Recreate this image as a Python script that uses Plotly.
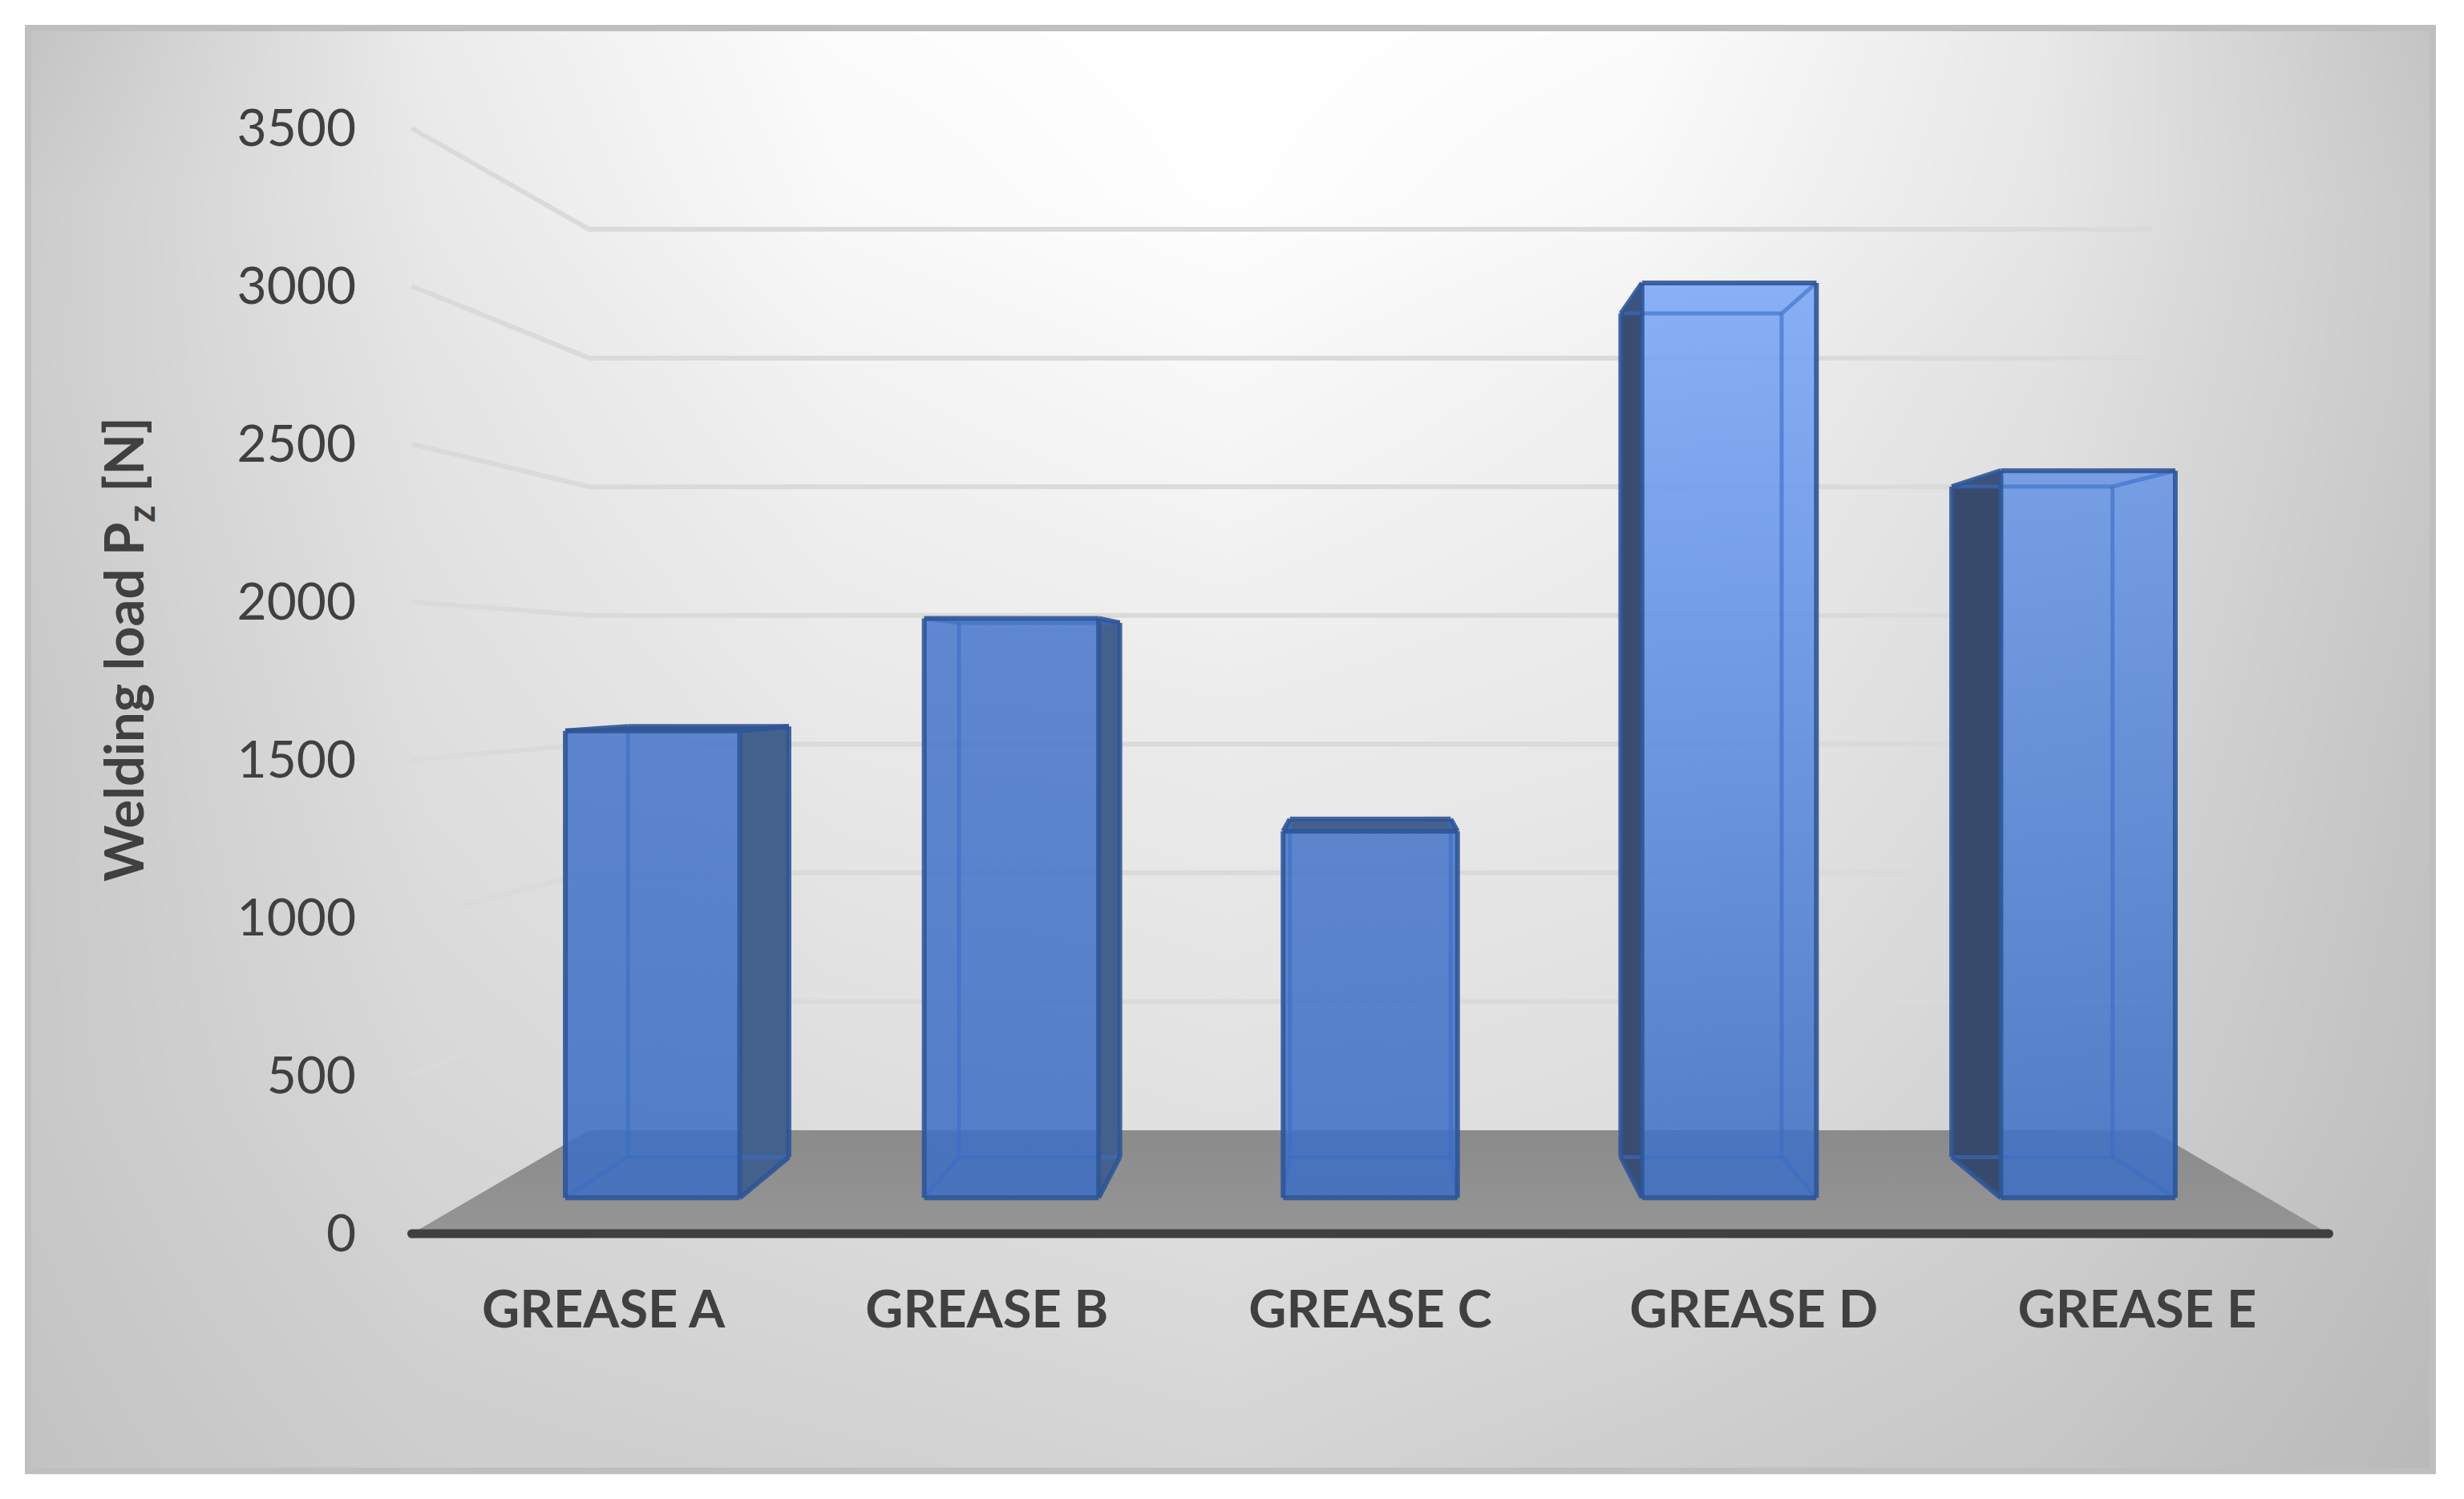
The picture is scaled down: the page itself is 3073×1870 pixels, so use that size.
"""
Welding load of five greases, drawn as a see-through 3D column chart.
The columns are projected by hand onto ordinary cartesian axes.
"""
import plotly.graph_objects as go

# chart data
categories = ["GREASE A", "GREASE B", "GREASE C", "GREASE D", "GREASE E"]
welding_load = [1580, 1960, 1240, 3095, 2460]
y_ticks = [0, 500, 1000, 1500, 2000, 2500, 3000, 3500]

# colours at the top of each column (the columns all fade to the same bottom colour)
top_colors = [
    "rgba(71,118,201,0.85)",
    "rgba(73,120,203,0.85)",
    "rgba(71,118,201,0.85)",
    "rgba(120,167,249,0.85)",
    "rgba(102,149,229,0.85)",
]
side_colors = ["#44608c", "#44608c", "#44608c", "#3a4d70", "#384a6b"]
bottom_color = "rgba(61,110,194,0.85)"

# background grey levels on a coarse grid (pixels)
bg_x = [31, 530, 1040, 1530, 2040, 2550, 3038]
bg_y = [31, 250, 470, 920, 1370, 1839]
bg_grey = [
    [195, 235, 252, 255, 252, 232, 195],
    [204, 232, 249, 254, 248, 230, 200],
    [205, 228, 242, 248, 240, 225, 200],
    [200, 222, 232, 235, 232, 218, 195],
    [200, 215, 222, 226, 222, 210, 192],
    [195, 205, 208, 212, 205, 198, 185],
]

# perspective: depth is the shrink factor, 1 at the axis line, smaller further back
HORIZON = 1770
CENTER = 2
WALL_DEPTH = 0.815
BAR_FRONT = 0.936
BAR_BACK = 0.863
BAR_HALF = 0.243
X_START, X_END = -0.5, 4.5

# pixel layout
W, H = 3073, 1870
ZERO_PX = 1539
PX_PER_UNIT = 0.394
CAT_PX = 478.2
CENTER_PX = 1709
LEFT_PX, RIGHT_PX = 445, 2950
TOP_PX, BOTTOM_PX = 30, 1590


def project(x, value, depth):
    return CENTER + (x - CENTER) * depth, HORIZON + (value - HORIZON) * depth


def polygon(points):
    xs, ys = zip(*points)
    return list(xs) + [xs[0]], list(ys) + [ys[0]]


def add(fig, **kwargs):
    fig.add_trace(go.Scatter(xaxis="x2", yaxis="y2", showlegend=False, hoverinfo="skip",
                             cliponaxis=False, **kwargs))


def add_column(fig, i, value):
    corners = {}
    for side, x in (("l", i - BAR_HALF), ("r", i + BAR_HALF)):
        for level, v in (("b", 0), ("t", value)):
            for plane, depth in (("f", BAR_FRONT), ("k", BAR_BACK)):
                corners[side + level + plane] = project(x, v, depth)

    faces = {
        "back": ["lbk", "rbk", "rtk", "ltk"],
        "bottom": ["lbf", "rbf", "rbk", "lbk"],
        "left": ["lbf", "lbk", "ltk", "ltf"],
        "right": ["rbf", "rbk", "rtk", "rtf"],
        "top": ["ltf", "rtf", "rtk", "ltk"],
        "front": ["lbf", "rbf", "rtf", "ltf"],
    }
    # faces turned to the viewer are solid and dark, the others only tint the inside
    seen = []
    if i + BAR_HALF < CENTER:
        seen.append("right")
    if i - BAR_HALF > CENTER:
        seen.append("left")
    if value < HORIZON:
        seen.append("top")

    gradient = dict(type="vertical", colorscale=[[0, bottom_color], [1, top_colors[i]]])
    for name, keys in faces.items():
        xs, ys = polygon([corners[k] for k in keys])
        if name == "front":
            add(fig, x=xs, y=ys, mode="none", fill="toself", fillgradient=gradient)
        elif name in seen:
            add(fig, x=xs, y=ys, mode="none", fill="toself", fillcolor=side_colors[i])
        else:
            add(fig, x=xs, y=ys, mode="none", fill="toself", fillcolor="rgba(90,140,225,0.12)")

    # outer edges dark, edges seen through the column lighter
    outer = set()
    inner = set()
    for name, keys in faces.items():
        for a, b in zip(keys, keys[1:] + keys[:1]):
            edge = tuple(sorted((a, b)))
            if name == "front" or name in seen:
                outer.add(edge)
            else:
                inner.add(edge)
    inner -= outer
    for edges, color, width in ((inner, "rgba(58,108,198,0.6)", 5), (outer, "rgba(47,85,151,0.9)", 6)):
        xs, ys = [], []
        for a, b in sorted(edges):
            xs += [corners[a][0], corners[b][0], None]
            ys += [corners[a][1], corners[b][1], None]
        add(fig, x=xs, y=ys, mode="lines", line=dict(color=color, width=width))


fig = go.Figure()

# background
fig.add_trace(go.Heatmap(x=bg_x, y=bg_y, z=bg_grey, zmin=0, zmax=255, zsmooth="best",
                         colorscale=[[0, "#000000"], [1, "#ffffff"]], showscale=False,
                         hoverinfo="skip"))

# gridlines run along the left wall, then across the back wall
for tick in y_ticks[1:]:
    points = [project(X_START, tick, 1), project(X_START, tick, WALL_DEPTH), project(X_END, tick, WALL_DEPTH)]
    xs, ys = zip(*points)
    add(fig, x=xs, y=ys, mode="lines", line=dict(color="#dadada", width=6))

# floor
xs, ys = polygon([project(X_START, 0, 1), project(X_END, 0, 1),
                  project(X_END, 0, WALL_DEPTH), project(X_START, 0, WALL_DEPTH)])
add(fig, x=xs, y=ys, mode="none", fill="toself",
    fillgradient=dict(type="vertical", colorscale=[[0, "#959595"], [1, "#8b8b8b"]]))

for i, value in enumerate(welding_load):
    add_column(fig, i, value)

# axis line
add(fig, x=[X_START, X_END], y=[0, 0], mode="lines+markers",
    line=dict(color="#404040", width=11), marker=dict(color="#404040", size=11))

fig.update_layout(
    width=W,
    height=H,
    margin=dict(l=0, r=0, t=0, b=0),
    paper_bgcolor="#ffffff",
    plot_bgcolor="rgba(0,0,0,0)",
    font=dict(family="Lato", color="#404040"),
    # background axes, in pixels
    xaxis=dict(domain=[31 / W, 3038 / W], range=[31, 3038], visible=False),
    yaxis=dict(domain=[1 - 1839 / H, 1 - 31 / H], range=[1839, 31], visible=False),
    # chart axes
    xaxis2=dict(
        domain=[LEFT_PX / W, RIGHT_PX / W],
        range=[CENTER + (LEFT_PX - CENTER_PX) / CAT_PX, CENTER + (RIGHT_PX - CENTER_PX) / CAT_PX],
        anchor="y2",
        tickmode="array",
        tickvals=list(range(len(categories))),
        ticktext=categories,
        tickfont=dict(family="Lato", size=65, color="#404040", weight="bold"),
        ticks="",
        showgrid=False,
        zeroline=False,
        showline=False,
    ),
    yaxis2=dict(
        domain=[1 - BOTTOM_PX / H, 1 - TOP_PX / H],
        range=[(ZERO_PX - BOTTOM_PX) / PX_PER_UNIT, (ZERO_PX - TOP_PX) / PX_PER_UNIT],
        anchor="x2",
        tickmode="array",
        tickvals=y_ticks,
        tickfont=dict(family="Lato", size=64, color="#404040"),
        ticks="",
        showgrid=False,
        zeroline=False,
        showline=False,
        title=dict(text="Welding load P<sub>z</sub> [N]",
                   font=dict(family="Lato", size=67, color="#404040", weight="bold"),
                   standoff=94),
    ),
    shapes=[dict(type="rect", xref="paper", yref="paper", x0=35 / W, x1=3034 / W,
                 y0=1 - 1835 / H, y1=1 - 35 / H, line=dict(color="#bfbfbf", width=8))],
)

fig.write_html("out.html", config=dict(displayModeBar=False),
               post_script="document.body.style.margin='0';")
